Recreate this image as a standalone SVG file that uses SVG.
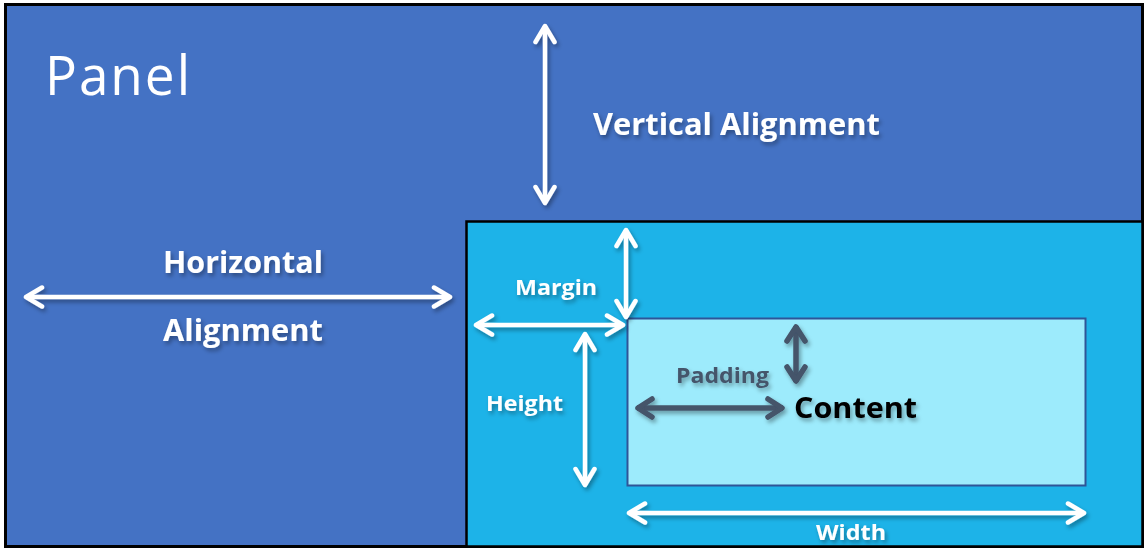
<svg xmlns="http://www.w3.org/2000/svg" width="1147" height="550" viewBox="0 0 1147 550">
<defs>
<style>
.lbl{font-family:"Open Sans","Liberation Sans",sans-serif;font-weight:bold;fill:#fff;filter:url(#sh)}
.w{stroke:#fff;stroke-width:4.5;fill:none;marker-start:url(#hw);marker-end:url(#hw);filter:url(#shl)}
.d{stroke:#44546A;stroke-width:5.5;fill:none;marker-start:url(#hd);marker-end:url(#hd);filter:url(#shl)}
</style>
<filter id="sh" x="-20%" y="-20%" width="140%" height="160%">
<feDropShadow dx="2" dy="3" stdDeviation="2" flood-color="#000" flood-opacity="0.35"/>
</filter>
<filter id="shl" filterUnits="userSpaceOnUse" x="0" y="0" width="1147" height="550">
<feDropShadow dx="2" dy="3" stdDeviation="2" flood-color="#000" flood-opacity="0.35"/>
</filter>
<marker id="hw" viewBox="0 0 24 24" refX="21" refY="12" markerWidth="24" markerHeight="24" markerUnits="userSpaceOnUse" orient="auto-start-reverse">
<polyline points="5,2.5 21,12 5,21.5" fill="none" stroke="#fff" stroke-width="4.5" stroke-linecap="round" stroke-linejoin="round"/>
</marker>
<marker id="hd" viewBox="0 0 24 24" refX="21" refY="12" markerWidth="24" markerHeight="24" markerUnits="userSpaceOnUse" orient="auto-start-reverse">
<polyline points="6,3 20,12 6,21" fill="none" stroke="#44546A" stroke-width="5.5" stroke-linecap="round" stroke-linejoin="round"/>
</marker>
</defs>
<g id="panel">
<rect x="5.5" y="4.5" width="1137" height="542" fill="#4472C4" stroke="#000" stroke-width="3"/>
<text x="45" y="95" font-family="'Open Sans','Liberation Sans',sans-serif" font-size="54" fill="#fff" letter-spacing="2" textLength="147" lengthAdjust="spacingAndGlyphs">Panel</text>
</g>
<g id="element">
<rect x="466.5" y="221.5" width="676" height="325" fill="#1DB3E8" stroke="#000" stroke-width="2.5"/>
</g>
<g id="content">
<rect x="627.5" y="318.5" width="458" height="167" fill="#9DEBFC" stroke="#2F5597" stroke-width="2"/>
<text x="794" y="418" font-family="'Open Sans','Liberation Sans',sans-serif" font-weight="bold" font-size="28" fill="#000" textLength="123" lengthAdjust="spacingAndGlyphs" filter="url(#sh)">Content</text>
</g>
<g id="connectors">
<line class="w" x1="545" y1="26" x2="545" y2="203"/>
<line class="w" x1="26" y1="297" x2="450" y2="297"/>
<line class="w" x1="626" y1="230" x2="626" y2="317"/>
<line class="w" x1="476" y1="325" x2="623" y2="325"/>
<line class="w" x1="585" y1="334" x2="585" y2="485"/>
<line class="w" x1="629" y1="513" x2="1084" y2="513"/>
<line class="d" x1="796" y1="326" x2="796" y2="382"/>
<line class="d" x1="637" y1="408" x2="783" y2="408"/>
</g>
<g id="labels">
<text class="lbl" x="593" y="135" font-size="30" textLength="287" lengthAdjust="spacingAndGlyphs">Vertical Alignment</text>
<text class="lbl" x="163" y="273" font-size="30" textLength="160" lengthAdjust="spacingAndGlyphs">Horizontal</text>
<text class="lbl" x="163" y="341" font-size="30" textLength="160" lengthAdjust="spacingAndGlyphs">Alignment</text>
<text class="lbl" x="515" y="295" font-size="22" textLength="82" lengthAdjust="spacingAndGlyphs">Margin</text>
<text class="lbl" x="486" y="411" font-size="22" textLength="77" lengthAdjust="spacingAndGlyphs">Height</text>
<text class="lbl" x="676" y="383" font-size="22" textLength="93" lengthAdjust="spacingAndGlyphs" style="fill:#44546A">Padding</text>
<text class="lbl" x="816" y="540" font-size="22" textLength="70" lengthAdjust="spacingAndGlyphs">Width</text>
</g>
</svg>
